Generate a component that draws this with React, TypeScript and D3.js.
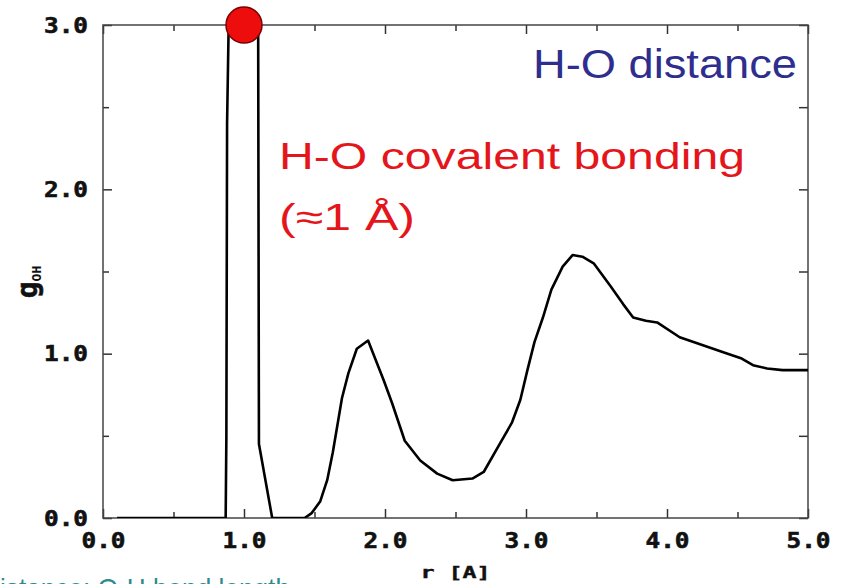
import React, { useEffect, useRef } from 'react';
import * as d3 from 'd3';

// radial distribution function g_OH(r)
const rValues = [0.10, 0.87, 0.875, 0.88, 0.895, 1.00, 1.10, 1.106, 1.20, 1.43, 1.48, 1.54, 1.59, 1.63, 1.695, 1.74, 1.80, 1.88, 1.93, 1.99, 2.05, 2.14, 2.25, 2.37, 2.48, 2.62, 2.70, 2.82, 2.90, 2.96, 3.01, 3.06, 3.12, 3.18, 3.26, 3.33, 3.40, 3.48, 3.60, 3.69, 3.76, 3.85, 3.93, 4.09, 4.26, 4.43, 4.53, 4.61, 4.71, 4.82, 5.00];
const gValues = [0, 0, 0.5, 2.4, 3.2, 12, 3.2, 0.45, 0, 0, 0.03, 0.10, 0.23, 0.40, 0.73, 0.88, 1.03, 1.08, 0.97, 0.84, 0.70, 0.47, 0.35, 0.27, 0.23, 0.24, 0.28, 0.46, 0.58, 0.72, 0.90, 1.07, 1.22, 1.39, 1.53, 1.60, 1.59, 1.55, 1.41, 1.30, 1.22, 1.20, 1.19, 1.10, 1.05, 1.00, 0.97, 0.93, 0.91, 0.90, 0.90];

const xMajor = [0, 1, 2, 3, 4, 5];
const xMinor = [0.5, 1.5, 2.5, 3.5, 4.5];
const yMajor = [0, 1, 2, 3];
const yMinor = [0.5, 1.5, 2.5];

const markerPoint = { r: 1.0, g: 3.0 };

const tickFont = '"DejaVu Sans Mono", monospace';
const textFont = '"Liberation Sans", Arial, sans-serif';

export default function App() {
  const ref = useRef<SVGSVGElement>(null);

  useEffect(() => {
    const width = 705;
    const height = 493;
    const margin = { top: 25, left: 103 };
    const data = rValues.map((r, i) => ({ r, g: gValues[i] }));

    const root = d3.select(ref.current);
    root.selectAll('*').remove();

    root.append('defs')
      .append('clipPath')
      .attr('id', 'plotClip')
      .append('rect')
      .attr('width', width)
      .attr('height', height);

    const svg = root.append('g')
      .attr('transform', `translate(${margin.left},${margin.top})`);

    const xScale = d3.scaleLinear().domain([0, 5]).range([0, width]);
    const yScale = d3.scaleLinear().domain([0, 3]).range([height, 0]);

    const fmt = d3.format('.1f');

    // bottom axis, ticks pointing inward
    svg.append('g')
      .attr('transform', `translate(0,${height})`)
      .call(d3.axisBottom(xScale).tickValues(xMinor).tickSize(-6).tickFormat(() => ''))
      .call(g => g.select('.domain').remove());
    const xAx = svg.append('g')
      .attr('transform', `translate(0,${height})`)
      .call(d3.axisBottom(xScale).tickValues(xMajor).tickSize(-9).tickPadding(14).tickFormat(d => fmt(d as number)))
      .call(g => g.select('.domain').remove());

    // top axis
    svg.append('g')
      .call(d3.axisTop(xScale).tickValues(xMinor).tickSize(-6).tickFormat(() => ''))
      .call(g => g.select('.domain').remove());
    svg.append('g')
      .call(d3.axisTop(xScale).tickValues(xMajor).tickSize(-9).tickFormat(() => ''))
      .call(g => g.select('.domain').remove());

    // left axis
    svg.append('g')
      .call(d3.axisLeft(yScale).tickValues(yMinor).tickSize(-6).tickFormat(() => ''))
      .call(g => g.select('.domain').remove());
    const yAx = svg.append('g')
      .call(d3.axisLeft(yScale).tickValues(yMajor).tickSize(-9).tickPadding(15).tickFormat(d => fmt(d as number)))
      .call(g => g.select('.domain').remove());

    // right axis
    svg.append('g')
      .attr('transform', `translate(${width},0)`)
      .call(d3.axisRight(yScale).tickValues(yMinor).tickSize(-9).tickFormat(() => ''))
      .call(g => g.select('.domain').remove());
    svg.append('g')
      .attr('transform', `translate(${width},0)`)
      .call(d3.axisRight(yScale).tickValues(yMajor).tickSize(-9).tickFormat(() => ''))
      .call(g => g.select('.domain').remove());

    svg.selectAll('.tick line').attr('stroke', '#333').attr('stroke-width', 1.5);

    [xAx, yAx].forEach(ax => {
      ax.selectAll('text')
        .attr('font-family', tickFont)
        .attr('font-weight', 'bold')
        .attr('font-size', 22)
        .attr('fill', '#111')
        .attr('stroke', '#111')
        .attr('stroke-width', 0.6)
        .attr('textLength', 44)
        .attr('lengthAdjust', 'spacingAndGlyphs');
    });

    // frame
    svg.append('rect')
      .attr('width', width)
      .attr('height', height)
      .attr('fill', 'none')
      .attr('stroke', '#444')
      .attr('stroke-width', 1.5);

    const line = d3.line<{ r: number; g: number }>()
      .x(d => xScale(d.r))
      .y(d => yScale(d.g));

    svg.append('path')
      .datum(data)
      .attr('clip-path', 'url(#plotClip)')
      .attr('fill', 'none')
      .attr('stroke', '#000')
      .attr('stroke-width', 2.6)
      .attr('stroke-linejoin', 'round')
      .attr('d', line);

    svg.append('circle')
      .attr('cx', xScale(markerPoint.r))
      .attr('cy', yScale(markerPoint.g))
      .attr('r', 18)
      .attr('fill', '#ee0d0d')
      .attr('stroke', '#7a0000')
      .attr('stroke-width', 1.5);

    // axis titles
    root.append('text')
      .attr('x', margin.left + width / 2)
      .attr('y', 578)
      .attr('text-anchor', 'middle')
      .attr('font-family', tickFont)
      .attr('font-weight', 'bold')
      .attr('font-size', 16)
      .attr('fill', '#111')
      .attr('stroke', '#111')
      .attr('stroke-width', 0.4)
      .attr('textLength', 70)
      .attr('lengthAdjust', 'spacingAndGlyphs')
      .text('r [A]');

    const yTitle = root.append('text')
      .attr('transform', 'translate(37,282) rotate(-90)')
      .attr('text-anchor', 'middle')
      .attr('font-family', tickFont)
      .attr('font-weight', 'bold')
      .attr('fill', '#111');
    yTitle.append('tspan').attr('font-size', 28).attr('stroke', '#111').attr('stroke-width', 0.6).text('g');
    yTitle.append('tspan').attr('font-size', 13).attr('dy', 4).text('OH');

    // annotations
    root.append('text')
      .attr('x', 533)
      .attr('y', 78)
      .attr('font-family', textFont)
      .attr('font-size', 40)
      .attr('fill', '#2e2e8e')
      .attr('textLength', 264)
      .attr('lengthAdjust', 'spacingAndGlyphs')
      .text('H-O distance');

    root.append('text')
      .attr('x', 279)
      .attr('y', 169)
      .attr('font-family', textFont)
      .attr('font-size', 37)
      .attr('fill', '#e4161b')
      .attr('textLength', 466)
      .attr('lengthAdjust', 'spacingAndGlyphs')
      .text('H-O covalent bonding');

    root.append('text')
      .attr('x', 279)
      .attr('y', 230)
      .attr('font-family', textFont)
      .attr('font-size', 37)
      .attr('fill', '#e4161b')
      .attr('textLength', 136)
      .attr('lengthAdjust', 'spacingAndGlyphs')
      .text('(≈1 Å)');

    // caption running off the bottom edge, as in the original slide
    root.append('text')
      .attr('x', 0)
      .attr('y', 598)
      .attr('font-family', textFont)
      .attr('font-size', 28)
      .attr('fill', '#2a8c8c')
      .attr('textLength', 290)
      .attr('lengthAdjust', 'spacingAndGlyphs')
      .text('istance: O-H bond length');
  }, []);

  return (
    <svg
      ref={ref}
      width={844}
      height={584}
      style={{ position: 'absolute', left: 0, top: 0, background: '#fff' }}
    />
  );
}
